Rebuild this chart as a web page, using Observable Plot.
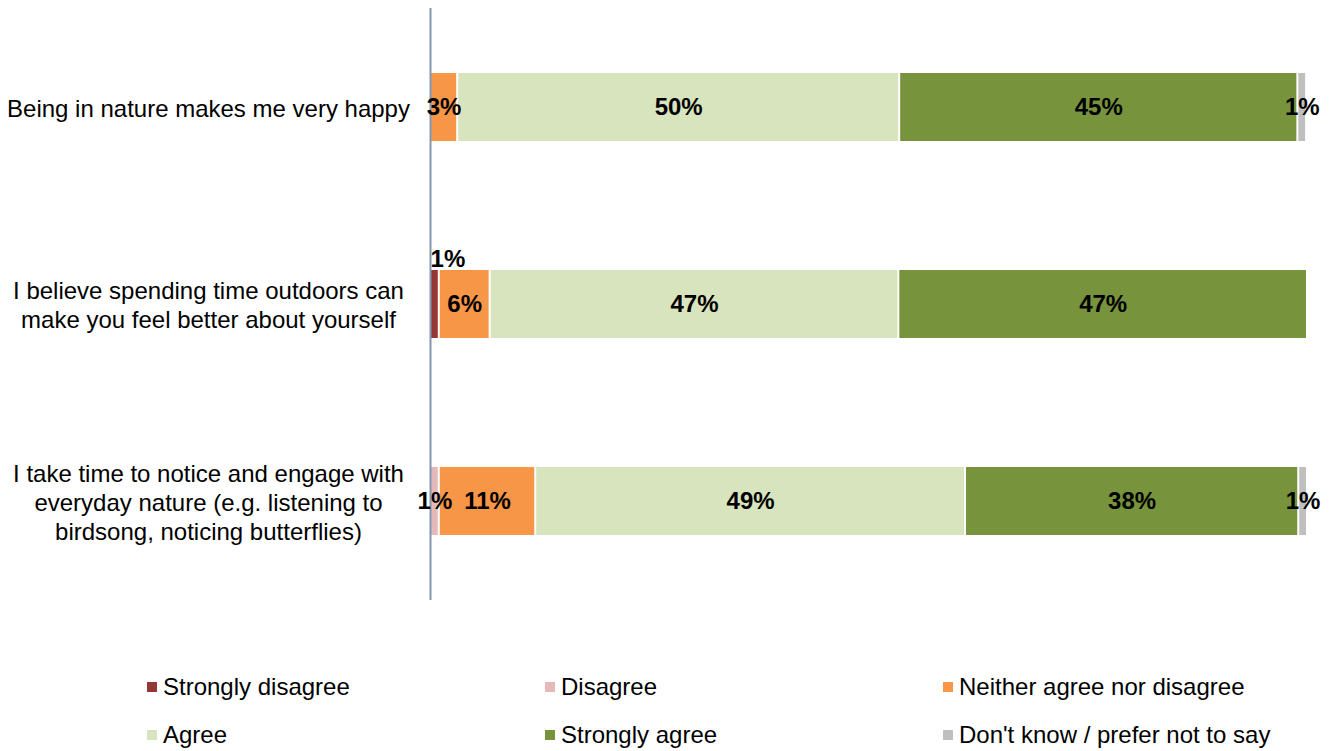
<!DOCTYPE html>
<html>
<head>
<meta charset="utf-8">
<script src="https://cdn.jsdelivr.net/npm/d3@7"></script>
<script src="https://cdn.jsdelivr.net/npm/@observablehq/plot@0.6"></script>
<style>
  html, body { margin: 0; padding: 0; background: #fff; }
  body { width: 1337px; height: 751px; overflow: hidden; font-family: "Liberation Sans", Arial, sans-serif; }
  #legend { display: grid; grid-template-columns: repeat(3, 398px); padding-left: 147px; margin-top: 13px; }
  .item { display: flex; align-items: center; height: 48px; font-size: 24px; color: #000; }
  .sw { width: 10px; height: 10px; margin-right: 6px; flex: none; }
</style>
</head>
<body>
<div id="chart"></div>
<div id="legend"></div>
<script>
const categories = [
  "Being in nature makes me very happy",
  "I believe spending time outdoors can\nmake you feel better about yourself",
  "I take time to notice and engage with\neveryday nature (e.g. listening to\nbirdsong, noticing butterflies)"
];
const responses = ["Strongly disagree", "Disagree", "Neither agree nor disagree", "Agree", "Strongly agree", "Don't know / prefer not to say"];
const colors = ["#953735", "#E6B9B8", "#F79646", "#D7E4BD", "#77933C", "#BFBFBF"];

const stronglyDisagree = [0, 1.0, 0];
const disagree = [0, 0, 1.0];
const neither = [3.1, 5.8, 11.0];
const agree = [50.4, 46.6, 49.0];
const stronglyAgree = [45.4, 46.6, 38.0];
const dontKnow = [1.0, 0, 1.0];

const series = [stronglyDisagree, disagree, neither, agree, stronglyAgree, dontKnow];

const data = [];
categories.forEach((c, i) => {
  responses.forEach((r, j) => {
    const v = series[j][i];
    if (v > 0) data.push({category: c, response: r, value: v, above: (i === 1 && j === 0)});
  });
});

const fmt = d => Math.round(d.value) + "%";

const chart = Plot.plot({
  width: 1337,
  height: 650,
  marginTop: 8,
  marginBottom: 50,
  marginLeft: 430,
  marginRight: 30,
  style: {fontFamily: "'Liberation Sans', Arial, sans-serif", background: "#fff"},
  x: {domain: [0, 100], axis: null},
  y: {domain: categories, paddingInner: 0.655, paddingOuter: 0.3275, label: null},
  color: {domain: responses, range: colors},
  marks: [
    Plot.barX(data, Plot.stackX({x: "value", y: "category", fill: "response", order: responses, insetLeft: 1, insetRight: 1})),
    Plot.ruleX([0], {stroke: "#8497B0", strokeWidth: 2}),
    Plot.text(data, Plot.stackX({x: "value", y: "category", z: "response", order: responses,
      text: d => d.above ? "" : fmt(d), fontSize: 24, fontWeight: "bold", fill: "#000"})),
    Plot.text(data, Plot.stackX({x: "value", y: "category", z: "response", order: responses,
      text: d => d.above ? fmt(d) : "", fontSize: 24, fontWeight: "bold", fill: "#000", dx: 13, dy: -45})),
    Plot.axisY({tickSize: 0, textAnchor: "middle", dx: -213, fontSize: 24, lineHeight: 1.2, label: null, fill: "#000"})
  ]
});
document.getElementById("chart").appendChild(chart);

const legend = document.getElementById("legend");
responses.forEach((r, j) => {
  const it = document.createElement("div");
  it.className = "item";
  const sw = document.createElement("span");
  sw.className = "sw";
  sw.style.background = colors[j];
  const tx = document.createElement("span");
  tx.textContent = r;
  it.appendChild(sw);
  it.appendChild(tx);
  legend.appendChild(it);
});
</script>
</body>
</html>
